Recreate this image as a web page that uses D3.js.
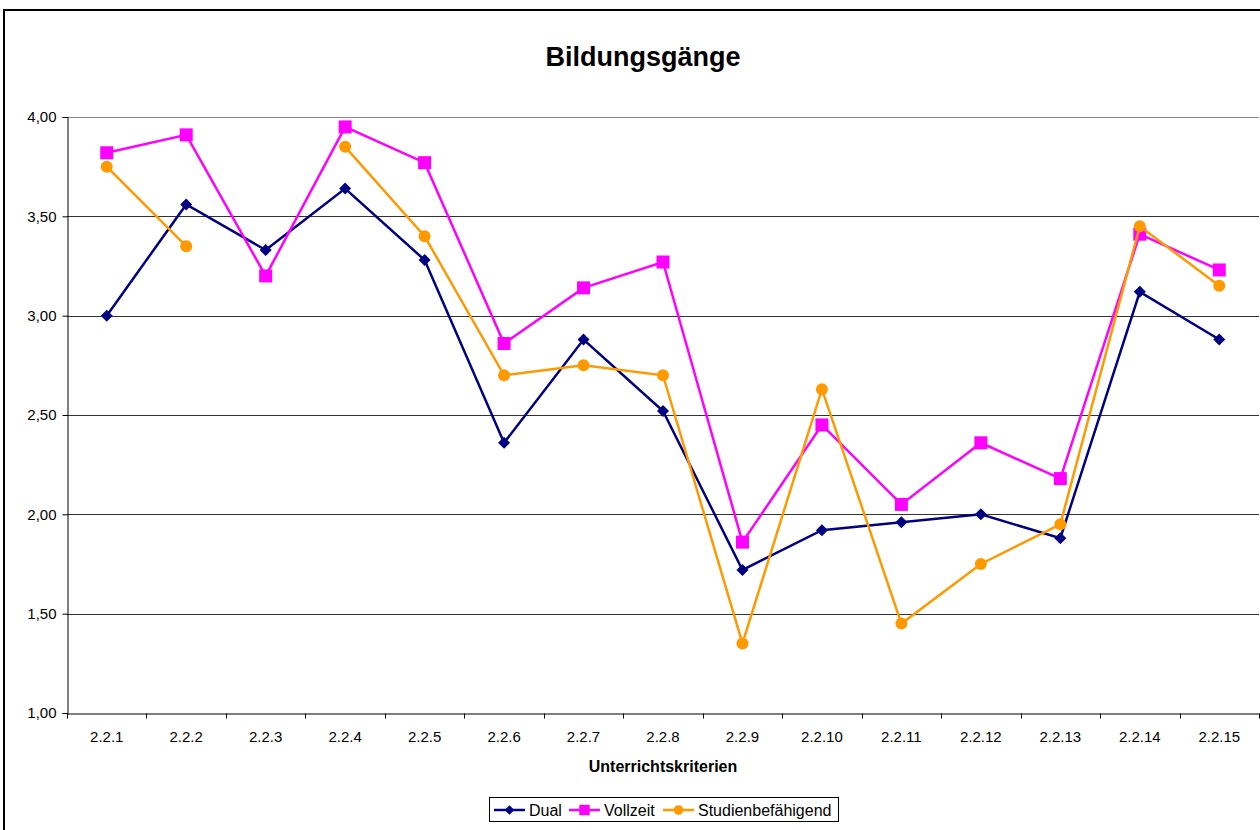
<!DOCTYPE html>
<html>
<head>
<meta charset="utf-8">
<script src="https://cdn.jsdelivr.net/npm/d3@7"></script>
<style>
  body { margin: 0; background: #fff; }
  text { font-family: "Liberation Sans", Arial, sans-serif; }
</style>
</head>
<body>
<div id="chart"></div>
<script>
// Chart data
const categories = ["2.2.1", "2.2.2", "2.2.3", "2.2.4", "2.2.5", "2.2.6", "2.2.7", "2.2.8",
                    "2.2.9", "2.2.10", "2.2.11", "2.2.12", "2.2.13", "2.2.14", "2.2.15"];
const dual = [3.00, 3.56, 3.33, 3.64, 3.28, 2.36, 2.88, 2.52, 1.72, 1.92, 1.96, 2.00, 1.88, 3.12, 2.88];
const vollzeit = [3.82, 3.91, 3.20, 3.95, 3.77, 2.86, 3.14, 3.27, 1.86, 2.45, 2.05, 2.36, 2.18, 3.41, 3.23];
const studienbefaehigend = [3.75, 3.35, null, 3.85, 3.40, 2.70, 2.75, 2.70, 1.35, 2.63, 1.45, 1.75, 1.95, 3.45, 3.15];
const yTicks = [1.0, 1.5, 2.0, 2.5, 3.0, 3.5, 4.0];

const seriesList = [
    { name: "Dual", values: dual, color: "#000080", marker: "diamond" },
    { name: "Vollzeit", values: vollzeit, color: "#FF00FF", marker: "square" },
    { name: "Studienbefähigend", values: studienbefaehigend, color: "#FF9900", marker: "circle" }
];

const width = 1260, height = 830;
const margin = { left: 67, right: 1, top: 117, bottom: 117 }; // plot area 67..1259, 117..713

const svg = d3.select("#chart").append("svg")
    .attr("width", width)
    .attr("height", height);

// outer chart border
svg.append("rect")
    .attr("x", 4).attr("y", 10)
    .attr("width", 1270).attr("height", 840)
    .attr("fill", "#fff").attr("stroke", "#000").attr("stroke-width", 2);

const x = d3.scaleBand()
    .domain(categories)
    .range([margin.left, width - margin.right]);

const y = d3.scaleLinear()
    .domain([1, 4])
    .range([height - margin.bottom, margin.top]);

// gridlines
svg.append("g").selectAll("line")
    .data(yTicks.filter(t => t > 1))
    .enter().append("line")
    .attr("x1", margin.left).attr("x2", width - margin.right)
    .attr("y1", d => Math.round(y(d)) + 0.5).attr("y2", d => Math.round(y(d)) + 0.5)
    .attr("stroke", d => d === 4 ? "#888" : "#333")
    .attr("stroke-width", 1);

// y axis
const yAxis = svg.append("g")
    .attr("transform", `translate(${margin.left + 0.5},0)`)
    .call(d3.axisLeft(y).tickValues(yTicks).tickSize(5).tickPadding(6)
        .tickFormat(d => d3.format(".2f")(d).replace(".", ",")));
yAxis.select(".domain").attr("stroke", "#000");
yAxis.selectAll("text").attr("font-size", 15).attr("fill", "#000");

// x axis with ticks between categories
const xAxis = svg.append("g")
    .attr("transform", `translate(0,${Math.round(y(1)) + 0.5})`)
    .call(d3.axisBottom(x).tickSize(0).tickPadding(18));
xAxis.select(".domain").attr("stroke", "#000");
xAxis.selectAll("text").attr("font-size", 15).attr("fill", "#000");
xAxis.selectAll(".between")
    .data(d3.range(categories.length + 1))
    .enter().append("line")
    .attr("class", "between")
    .attr("x1", i => Math.round(margin.left + i * x.step()) + 0.5)
    .attr("x2", i => Math.round(margin.left + i * x.step()) + 0.5)
    .attr("y1", 0).attr("y2", 5)
    .attr("stroke", "#000");

// title and axis title
svg.append("text")
    .attr("x", 643).attr("y", 66)
    .attr("text-anchor", "middle")
    .attr("font-size", 27).attr("font-weight", "bold")
    .text("Bildungsgänge");

svg.append("text")
    .attr("x", (margin.left + width - margin.right) / 2).attr("y", 772)
    .attr("text-anchor", "middle")
    .attr("font-size", 16).attr("font-weight", "bold")
    .text("Unterrichtskriterien");

// marker drawing helper
function drawMarker(sel, type, color) {
    if (type === "diamond") {
        sel.append("path").attr("d", "M0,-6L6,0L0,6L-6,0Z").attr("fill", color);
    } else if (type === "square") {
        sel.append("rect").attr("x", -6.5).attr("y", -6.5).attr("width", 13).attr("height", 13).attr("fill", color);
    } else {
        sel.append("circle").attr("r", 6).attr("fill", color);
    }
}

const cx = i => x(categories[i]) + x.bandwidth() / 2;

const line = d3.line()
    .defined(d => d != null)
    .x((d, i) => cx(i))
    .y(d => y(d));

seriesList.forEach(s => {
    const g = svg.append("g");
    g.append("path")
        .datum(s.values)
        .attr("d", line)
        .attr("fill", "none")
        .attr("stroke", s.color)
        .attr("stroke-width", 2.5);
    g.selectAll("g.pt")
        .data(s.values.map((v, i) => ({ v, i })).filter(d => d.v != null))
        .enter().append("g")
        .attr("class", "pt")
        .attr("transform", d => `translate(${cx(d.i)},${y(d.v)})`)
        .each(function () { drawMarker(d3.select(this), s.marker, s.color); });
});

// legend
const legend = svg.append("g");
legend.append("rect")
    .attr("x", 489.5).attr("y", 797.5)
    .attr("width", 349).attr("height", 24)
    .attr("fill", "#fff").attr("stroke", "#000").attr("stroke-width", 1);

const legendX = [494, 569, 663];
seriesList.forEach((s, i) => {
    const lg = legend.append("g").attr("transform", `translate(${legendX[i]},810)`);
    lg.append("line").attr("x1", 0).attr("x2", 31).attr("y1", 0).attr("y2", 0)
        .attr("stroke", s.color).attr("stroke-width", 2.5);
    const m = lg.append("g").attr("transform", "translate(15.5,0)");
    drawMarker(m, s.marker, s.color);
    m.attr("transform", "translate(15.5,0) scale(0.8)");
    lg.append("text").attr("x", 35).attr("y", 5.5)
        .attr("font-size", 16).text(s.name);
});
</script>
</body>
</html>
